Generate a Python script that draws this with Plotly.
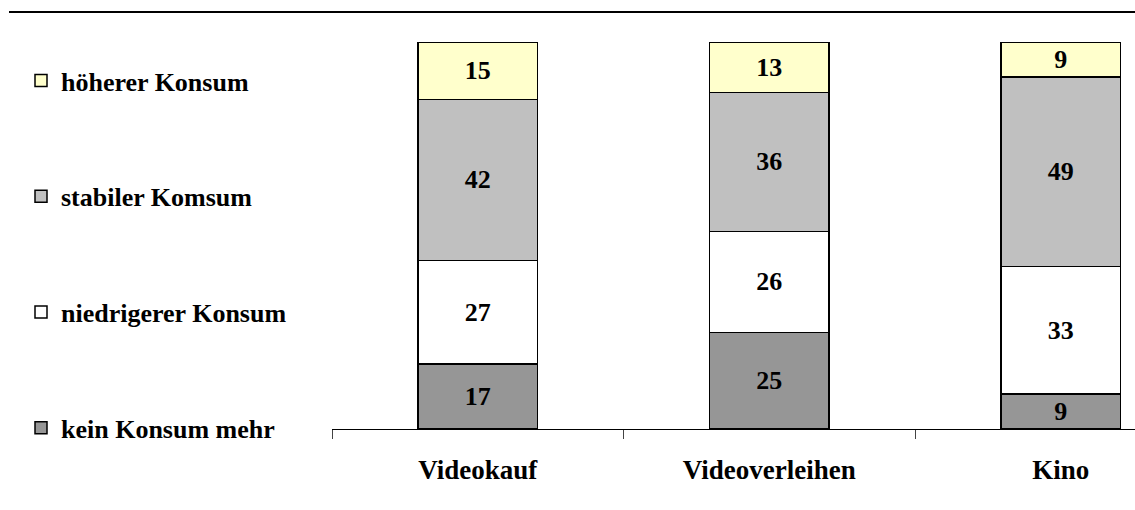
import plotly.graph_objects as go

# Media consumption change, shares per medium (stacked to 100 %)
categories = ["Videokauf", "Videoverleihen", "Kino"]
series_names = ["kein Konsum mehr", "niedrigerer Konsum", "stabiler Komsum", "höherer Konsum"]
kein_konsum = [17, 25, 9]
niedriger_konsum = [27, 26, 33]
stabiler_konsum = [42, 36, 49]
hoeher_konsum = [15, 13, 9]

series_values = [kein_konsum, niedriger_konsum, stabiler_konsum, hoeher_konsum]
series_colors = ["#969696", "#FFFFFF", "#C0C0C0", "#FFFFCC"]

FONT = "Liberation Serif, Times New Roman, serif"

fig = go.Figure()
n = len(series_names)
for i, (name, vals, col) in enumerate(zip(series_names, series_values, series_colors)):
    fig.add_trace(go.Bar(
        x=categories,
        y=vals,
        name=name,
        legendgroup=name,
        legendrank=n - i,  # top segment listed first in the legend
        marker=dict(color=col, line=dict(color="#000000", width=1.5)),
        width=0.41,
        text=[str(v) for v in vals],
        texttemplate="%{text}",
        textposition="inside",
        insidetextanchor="middle",
        textangle=0,
        constraintext="none",
        insidetextfont=dict(family=FONT, size=26, color="#000000", weight="bold"),
        hoverinfo="skip",
    ))

# Plot-area geometry in pixels
W, H = 1135, 510
L, T, B = 332, 42, 81
plot_w = W - L
plot_h = H - T - B
cat_px = 291.5

fig.update_layout(
    width=W,
    height=H,
    barmode="stack",
    barnorm="percent",
    paper_bgcolor="#FFFFFF",
    plot_bgcolor="#FFFFFF",
    margin=dict(l=L, r=0, t=T, b=B, pad=0),
    font=dict(family=FONT, size=26, color="#000000", weight="bold"),
    legend=dict(
        x=(21 - L) / plot_w,
        xanchor="left",
        y=1 + (T - 57) / plot_h,
        yanchor="top",
        traceorder="grouped",
        tracegroupgap=79,
        maxheight=490,
        font=dict(family=FONT, size=26, color="#000000", weight="bold"),
        bgcolor="rgba(0,0,0,0)",
    ),
    xaxis=dict(
        type="category",
        range=[-0.5, -0.5 + plot_w / cat_px],
        showline=True,
        linecolor="#000000",
        linewidth=1,
        ticks="outside",
        tickson="boundaries",
        ticklen=9,
        tickcolor="#444444",
        tickwidth=1,
        ticklabelstandoff=17,
        tickfont=dict(family=FONT, size=27, color="#000000", weight="bold"),
        showgrid=False,
        zeroline=False,
        fixedrange=True,
    ),
    yaxis=dict(
        range=[0, 100],
        visible=False,
        showgrid=False,
        zeroline=False,
        fixedrange=True,
    ),
    shapes=[
        # rule across the top of the chart
        dict(
            type="line",
            xref="paper",
            yref="paper",
            x0=(9 - L) / plot_w,
            x1=1.0,
            y0=1 + (T - 12) / plot_h,
            y1=1 + (T - 12) / plot_h,
            line=dict(color="#000000", width=2),
        )
    ],
)

fig.write_html("out.html")
